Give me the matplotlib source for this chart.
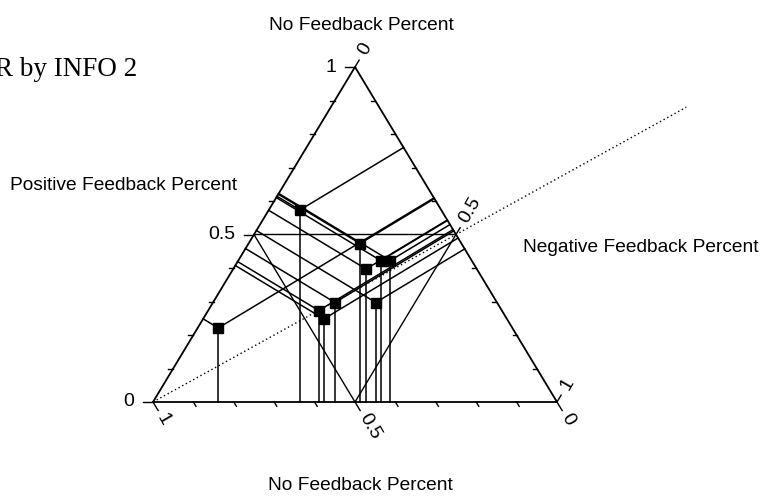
import numpy as np
import matplotlib.pyplot as plt

# ternary values of the plotted squares (fractions)
positive = [0.221, 0.573, 0.473, 0.397, 0.422, 0.422, 0.297, 0.273, 0.248, 0.297]
negative = [0.051, 0.077, 0.276, 0.329, 0.353, 0.376, 0.302, 0.274, 0.299, 0.403]

tick_vals = np.round(np.arange(0, 1.01, 0.1), 1)
tick_text = {0.0: '0', 0.5: '0.5', 1.0: '1'}

H = 335 / 404      # triangle height / base as drawn
PX = 1 / 404       # one pixel in data units
SANS = 'Liberation Sans'


def tern(p, n):
    # p = positive share (height), n = negative share
    return np.array([n + p / 2, p * H])


def foot(q, a, b):
    d = b - a
    t = np.dot(q - a, d) / np.dot(d, d)
    return a + t * d


def unit(v):
    return v / np.hypot(*v)


BL, BR, TOP = tern(0, 0), tern(0, 1), tern(1, 0)

fig = plt.figure(figsize=(7.66, 4.96), dpi=100)
ax = fig.add_axes([0, 0, 1, 1])
ax.set_xlim(-153 * PX, 613 * PX)
ax.set_ylim(-94 * PX, 402 * PX)
ax.axis('off')

# frame
tri = np.array([BL, BR, TOP, BL])
ax.plot(tri[:, 0], tri[:, 1], 'k-', lw=1.3)

# medial triangle
mids = np.array([tern(0.5, 0), tern(0, 0.5), tern(0.5, 0.5), tern(0.5, 0)])
ax.plot(mids[:, 0], mids[:, 1], 'k-', lw=1.0)

# line positive = negative, drawn past the frame
end = tern(0.5, 0.5) * 1.76
ax.plot([BL[0], end[0]], [BL[1], end[1]], color='k', lw=1.0,
        linestyle=(0, (1, 2)))

# perpendiculars from every point to the three sides
for p, n in zip(positive, negative):
    q = tern(p, n)
    for a, b in [(BL, BR), (BL, TOP), (TOP, BR)]:
        f = foot(q, a, b)
        ax.plot([q[0], f[0]], [q[1], f[1]], 'k-', lw=1.1)

pts = np.array([tern(p, n) for p, n in zip(positive, negative)])
ax.plot(pts[:, 0], pts[:, 1], 'ks', ms=7.2)

# ticks and tick labels
down_right = unit(BR - TOP)
up_right = unit(TOP - BL)
left = np.array([-1.0, 0.0])
for v in tick_vals:
    big = v in tick_text
    # left side: positive
    a = tern(v, 0)
    b = a + left * (10 if big else 5) * PX
    ax.plot([a[0], b[0]], [a[1], b[1]], 'k-', lw=1.0)
    if big:
        ax.text(a[0] - 19 * PX, a[1], tick_text[v], ha='right', va='center',
                fontsize=14, family=SANS)
    # bottom side: no feedback (1 at left)
    a = tern(0, 1 - v)
    b = a + down_right * (10 if big else 5) * PX
    ax.plot([a[0], b[0]], [a[1], b[1]], 'k-', lw=1.0)
    if big:
        c = a + down_right * 15 * PX
        ax.text(c[0], c[1], tick_text[v], ha='left', va='center', rotation=-60,
                rotation_mode='anchor', fontsize=14, family=SANS)
    # right side: negative (0 at top)
    a = TOP + v * (BR - TOP)
    if big:
        b = a + up_right * 8 * PX
        c = a + up_right * 15 * PX
        ax.text(c[0], c[1], tick_text[v], ha='left', va='center', rotation=60,
                rotation_mode='anchor', fontsize=14, family=SANS)
    else:
        b = a + left * 4 * PX
    ax.plot([a[0], b[0]], [a[1], b[1]], 'k-', lw=1.0)


def fpos(x, y):
    return x / 766, 1 - y / 496


fig.text(*fpos(-5, 69), 'R by INFO 2', ha='left', va='center', fontsize=19.5,
         family='Liberation Serif')
fig.text(*fpos(361, 26), 'No Feedback Percent', ha='center', va='center',
         fontsize=13.8, family=SANS)
fig.text(*fpos(10, 186), 'Positive Feedback Percent', ha='left', va='center',
         fontsize=13.8, family=SANS)
fig.text(*fpos(523, 247), 'Negative Feedback Percent', ha='left', va='center',
         fontsize=13.8, family=SANS)
fig.text(*fpos(360, 486), 'No Feedback Percent', ha='center', va='center',
         fontsize=13.8, family=SANS)

fig.savefig('out.png', dpi=100)
